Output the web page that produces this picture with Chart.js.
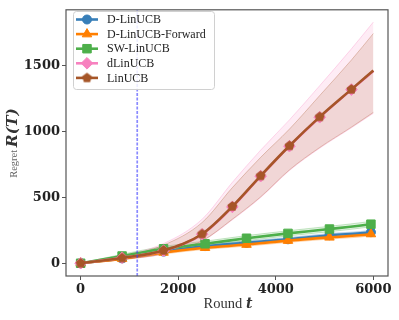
<!DOCTYPE html>
<html>
<head>
<meta charset="utf-8">
<script src="https://cdn.jsdelivr.net/npm/chart.js@4.4.1/dist/chart.umd.min.js"></script>
<style>
  html, body { margin: 0; padding: 0; background: #fff; }
</style>
</head>
<body>
<canvas id="grafico" width="399" height="320"></canvas>
<script>
// ===== DADOS =====
const roundsLin = [0, 850, 1700, 2490, 3110, 3690, 4280, 4900, 5550, 6000];
const linucb      = [0, 40, 97, 222, 432, 665, 893, 1113, 1322, 1465];
const linucbUpper = [0, 52, 138, 310, 575, 805, 1020, 1275, 1545, 1747];
const linucbLower = [0, 30, 72, 170, 335, 505, 710, 880, 1035, 1147];
const dlinucb      = [0, 42, 95, 220, 428, 662, 890, 1110, 1320, 1462];
const dlinucbUpper = [0, 58, 150, 335, 615, 860, 1090, 1350, 1630, 1834];
const dlinucbLower = [0, 28, 70, 168, 330, 500, 705, 875, 1030, 1140];

const roundsOthers = [0, 850, 1700, 2550, 3400, 4250, 5100, 5950, 6000];
const swLinucb   = [0, 55, 110, 148, 190, 227, 260, 297, 300];
const swUpper    = [0, 68, 128, 168, 210, 247, 281, 318, 321];
const swLower    = [0, 42, 92, 130, 172, 208, 240, 277, 280];
const dLinucb    = [0, 37, 88, 130, 155, 182, 213, 236, 240];
const dUpper     = [0, 47, 100, 142, 168, 195, 226, 250, 254];
const dLower     = [0, 27, 76, 118, 142, 169, 200, 222, 226];
const dForward   = [0, 35, 82, 118, 142, 172, 197, 222, 226];
const fwUpper    = [0, 45, 94, 130, 154, 185, 210, 235, 239];
const fwLower    = [0, 25, 70, 106, 130, 159, 184, 209, 213];

const changePoint = 1160;
const xTicks = [0, 2000, 4000, 6000];
const yTicks = [0, 500, 1000, 1500];
const xMin = -300, xMax = 6300;
const yMin = -97, yMax = 1927;

// ===== CORES =====
const cores = {
  azul: '#377eb8',
  laranja: '#ff7f00',
  verde: '#4daf4a',
  rosa: '#f781bf',
  marrom: '#a65628'
};
function rgba(hex, a) {
  const n = parseInt(hex.slice(1), 16);
  return `rgba(${(n >> 16) & 255},${(n >> 8) & 255},${n & 255},${a})`;
}

// marcador pentágono (não existe no Chart.js)
function criarPentagono(cor, r) {
  const c = document.createElement('canvas');
  const s = Math.ceil(2 * r + 2);
  c.width = s; c.height = s;
  const g = c.getContext('2d');
  g.fillStyle = cor;
  g.beginPath();
  for (let i = 0; i < 5; i++) {
    const a = -Math.PI / 2 + i * 2 * Math.PI / 5;
    const px = s / 2 + r * Math.cos(a), py = s / 2 + r * Math.sin(a);
    if (i === 0) g.moveTo(px, py); else g.lineTo(px, py);
  }
  g.closePath();
  g.fill();
  return c;
}
const pentagono = criarPentagono(cores.marrom, 5.2);

function pts(xs, ys) { return xs.map((x, i) => ({ x: x, y: ys[i] })); }

// ===== SÉRIES =====
const series = [
  { label: 'D-LinUCB', x: roundsOthers, y: dLinucb, up: dUpper, lo: dLower, cor: cores.azul, estilo: 'circle', raio: 4.5, ordem: 5 },
  { label: 'D-LinUCB-Forward', x: roundsOthers, y: dForward, up: fwUpper, lo: fwLower, cor: cores.laranja, estilo: 'triangle', raio: 5.5, ordem: 4 },
  { label: 'SW-LinUCB', x: roundsOthers, y: swLinucb, up: swUpper, lo: swLower, cor: cores.verde, estilo: 'rect', raio: 6, ordem: 3 },
  { label: 'dLinUCB', x: roundsLin, y: dlinucb, up: dlinucbUpper, lo: dlinucbLower, cor: cores.rosa, estilo: 'rectRot', raio: 5.8, ordem: 2 },
  { label: 'LinUCB', x: roundsLin, y: linucb, up: linucbUpper, lo: linucbLower, cor: cores.marrom, estilo: pentagono, raio: 5.2, ordem: 1 }
];

const datasets = [];
series.forEach(s => {
  // faixa (fill_between)
  datasets.push({
    data: pts(s.x, s.lo), borderColor: rgba(s.cor, 0.3), borderWidth: 1,
    pointRadius: 0, fill: false, order: 20 + s.ordem, cubicInterpolationMode: 'monotone'
  });
  datasets.push({
    data: pts(s.x, s.up), borderColor: rgba(s.cor, 0.3), borderWidth: 1,
    backgroundColor: rgba(s.cor, 0.15), pointRadius: 0, fill: '-1',
    order: 20 + s.ordem, cubicInterpolationMode: 'monotone'
  });
  // média
  datasets.push({
    label: s.label,
    data: pts(s.x, s.y),
    borderColor: s.cor, backgroundColor: s.cor, borderWidth: 2.6,
    pointStyle: s.estilo,
    pointRadius: ctx => ctx.dataIndex < ctx.dataset.data.length - 1 ? s.raio : 0,
    pointBorderWidth: 1, pointBorderColor: s.cor, pointBackgroundColor: s.cor,
    fill: false, order: s.ordem, cubicInterpolationMode: 'monotone'
  });
});
// linha vertical tracejada
datasets.push({
  data: [{ x: changePoint, y: yMin }, { x: changePoint, y: yMax }],
  borderColor: 'rgba(60,60,255,0.6)', borderWidth: 1.7, borderDash: [3, 1.5],
  pointRadius: 0, fill: false, order: 0
});

// ===== PLUGIN: moldura, legenda e títulos =====
const extras = {
  id: 'extras',
  afterDraw(chart) {
    const ctx = chart.ctx;
    const a = chart.chartArea;
    ctx.save();
    // moldura
    ctx.strokeStyle = '#555';
    ctx.lineWidth = 1.2;
    ctx.strokeRect(a.left, a.top, a.right - a.left, a.bottom - a.top);

    // legenda
    const lx = 73, ly = 11, lw = 141, lh = 78;
    ctx.fillStyle = 'rgba(255,255,255,0.85)';
    ctx.strokeStyle = '#d0d0d0';
    ctx.lineWidth = 1;
    ctx.beginPath();
    ctx.roundRect(lx + 0.5, ly + 0.5, lw, lh, 3);
    ctx.fill();
    ctx.stroke();
    ctx.font = '12px "Liberation Serif", serif';
    ctx.textBaseline = 'middle';
    series.forEach((s, i) => {
      const y = 19.5 + i * 14.6;
      ctx.strokeStyle = s.cor;
      ctx.lineWidth = 2.6;
      ctx.beginPath();
      ctx.moveTo(76, y);
      ctx.lineTo(98, y);
      ctx.stroke();
      ctx.fillStyle = s.cor;
      ctx.strokeStyle = s.cor;
      ctx.lineWidth = 1;
      Chart.helpers.drawPoint(ctx, { pointStyle: s.estilo, radius: s.raio, rotation: 0, borderWidth: 1 }, 87, y);
      ctx.fillStyle = '#222';
      ctx.fillText(s.label, 107, y + 0.5);
    });

    // título eixo x
    ctx.fillStyle = '#333';
    ctx.textBaseline = 'alphabetic';
    const f1 = '14.5px "Liberation Serif", serif';
    const f2 = 'bold italic 14px "DejaVu Serif", serif';
    ctx.font = f1; const w1 = ctx.measureText('Round ').width;
    ctx.font = f2; const w2 = ctx.measureText('t').width;
    let x0 = 228 - (w1 + w2) / 2;
    ctx.font = f1; ctx.fillText('Round ', x0, 308);
    ctx.font = f2; ctx.fillText('t', x0 + w1, 308);

    // título eixo y
    ctx.translate(17, 143);
    ctx.rotate(-Math.PI / 2);
    const f3 = '10.5px "Liberation Serif", serif';
    const f4 = 'bold italic 15.5px "DejaVu Serif", serif';
    ctx.font = f3; const w3 = ctx.measureText('Regret ').width;
    ctx.font = f4; const w4 = ctx.measureText('R(T)').width;
    x0 = -(w3 + w4) / 2;
    ctx.fillStyle = '#666';
    ctx.font = f3; ctx.fillText('Regret ', x0, 0);
    ctx.fillStyle = '#333';
    ctx.font = f4; ctx.fillText('R(T)', x0 + w3, 0);
    ctx.restore();
  }
};

// ===== GRÁFICO =====
const fonteTick = { family: '"DejaVu Serif", serif', size: 13, weight: 'bold' };
new Chart(document.getElementById('grafico').getContext('2d'), {
  type: 'line',
  data: { datasets: datasets },
  options: {
    responsive: false,
    animation: false,
    devicePixelRatio: 1,
    layout: { padding: { left: 0, right: 11, top: 6, bottom: 0 } },
    plugins: { legend: { display: false }, tooltip: { enabled: false } },
    scales: {
      x: {
        type: 'linear', min: xMin, max: xMax,
        afterBuildTicks: sc => { sc.ticks = xTicks.map(v => ({ value: v })); },
        afterFit: sc => { sc.height = 44; },
        grid: { display: true, drawOnChartArea: false, drawTicks: true, tickLength: 4, color: '#555', lineWidth: 1 },
        border: { display: false },
        ticks: { font: fonteTick, color: '#222', padding: 2, maxRotation: 0, callback: v => String(v) }
      },
      y: {
        type: 'linear', min: yMin, max: yMax,
        afterBuildTicks: sc => { sc.ticks = yTicks.map(v => ({ value: v })); },
        afterFit: sc => { sc.width = 66; },
        grid: { display: true, drawOnChartArea: false, drawTicks: true, tickLength: 4, color: '#555', lineWidth: 1 },
        border: { display: false },
        ticks: { font: fonteTick, color: '#222', padding: 2, callback: v => String(v) }
      }
    }
  },
  plugins: [extras]
});
</script>
</body>
</html>
